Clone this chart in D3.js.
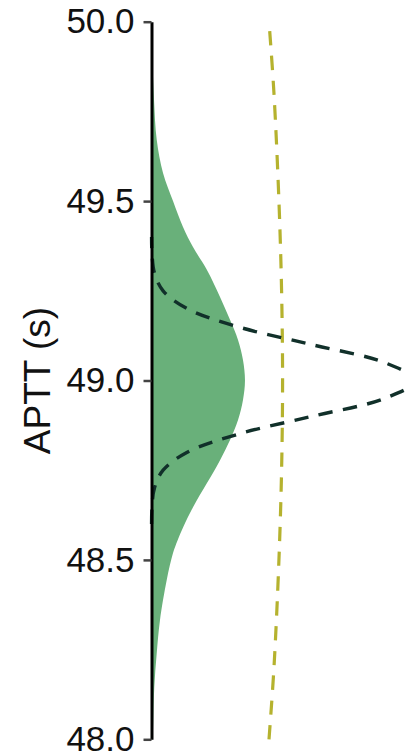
<!DOCTYPE html>
<html>
<head>
<meta charset="utf-8">
<script src="https://cdn.jsdelivr.net/npm/d3@7"></script>
<style>
  html, body { margin: 0; padding: 0; background: #ffffff; }
  svg { display: block; }
</style>
</head>
<body>
<svg id="chart" width="406" height="756"></svg>
<script>
// ---- data ----
const yTicks = [48.0, 48.5, 49.0, 49.5, 50.0];
const yTitle = "APTT (s)";

// green filled density: APTT value and density
const greenValues  = [48.0, 48.054, 48.146, 48.24, 48.332, 48.444, 48.519, 48.555, 48.592, 48.647, 48.714, 48.778, 48.834, 48.89, 48.946, 49.0, 49.057, 49.113, 49.169, 49.233, 49.308, 49.372, 49.428, 49.5, 49.578, 49.671, 49.782, 49.893, 50.0];
const greenDensity = [0.02, 0.027, 0.042, 0.079, 0.128, 0.23, 0.325, 0.395, 0.48, 0.627, 0.838, 1.035, 1.186, 1.307, 1.382, 1.412, 1.382, 1.307, 1.186, 1.035, 0.838, 0.627, 0.476, 0.325, 0.174, 0.079, 0.038, 0.015, 0.005];

// dark dashed narrow curve
const darkValues  = [48.6, 48.65, 48.7, 48.75, 48.8, 48.85, 48.9, 48.95, 49.0, 49.05, 49.1, 49.15, 49.2, 49.25, 49.3, 49.35, 49.4];
const darkDensity = [0.0013, 0.0087, 0.044, 0.175, 0.54, 1.30, 2.42, 3.52, 3.99, 3.52, 2.42, 1.30, 0.54, 0.175, 0.044, 0.0087, 0.0013];

// olive dashed wide curve
const oliveValues  = [48.0, 48.2, 48.5, 48.75, 49.0, 49.25, 49.5, 49.8, 50.0];
const oliveDensity = [1.775, 1.85, 1.925, 1.965, 1.98, 1.965, 1.925, 1.85, 1.775];

// ---- layout ----
const svg = d3.select("#chart");
const axisX = 151.5;
const y = d3.scaleLinear().domain([48.0, 50.0]).range([739.3, 21.7]);
const x = d3.scaleLinear().domain([0, 4]).range([axisX, axisX + 264.8]);

const green = greenValues.map((v, i) => ({v, d: greenDensity[i]}));
const dark  = darkValues.map((v, i) => ({v, d: darkDensity[i]}));
const olive = oliveValues.map((v, i) => ({v, d: oliveDensity[i]}));

svg.append("path")
  .datum(green)
  .attr("fill", "#69b07a")
  .attr("stroke", "none")
  .attr("d", d3.area()
    .y(p => y(p.v))
    .x0(x(0))
    .x1(p => x(p.d))
    .curve(d3.curveCatmullRom));

const line = d3.line().y(p => y(p.v)).x(p => x(p.d)).curve(d3.curveCatmullRom);

svg.append("path")
  .datum(olive)
  .attr("fill", "none")
  .attr("stroke", "#b5b22e")
  .attr("stroke-width", 3.2)
  .attr("stroke-dasharray", "14.3,10.5")
  .attr("d", line);

svg.append("path")
  .datum(dark)
  .attr("fill", "none")
  .attr("stroke", "#11302a")
  .attr("stroke-width", 3.4)
  .attr("stroke-dasharray", "14.3,10.5")
  .attr("d", line);

// ---- axis ----
const axis = d3.axisLeft(y)
  .tickValues(yTicks)
  .tickFormat(d3.format(".1f"))
  .tickSize(8)
  .tickSizeOuter(0)
  .tickPadding(9);

const gA = svg.append("g")
  .attr("transform", `translate(${axisX},0)`)
  .call(axis);

gA.select(".domain")
  .attr("stroke", "#000000")
  .attr("stroke-width", 3);
gA.selectAll(".tick line")
  .attr("stroke", "#444444")
  .attr("stroke-width", 2.5);
gA.selectAll(".tick text")
  .attr("fill", "#111111")
  .style("font-family", "'Liberation Sans', Arial, sans-serif")
  .style("font-size", "35px");

svg.append("text")
  .attr("transform", `translate(49.5,${(y(48) + y(50)) / 2}) rotate(-90)`)
  .attr("text-anchor", "middle")
  .attr("fill", "#111111")
  .style("font-family", "'Liberation Sans', Arial, sans-serif")
  .style("font-size", "37px")
  .text(yTitle);
</script>
</body>
</html>
